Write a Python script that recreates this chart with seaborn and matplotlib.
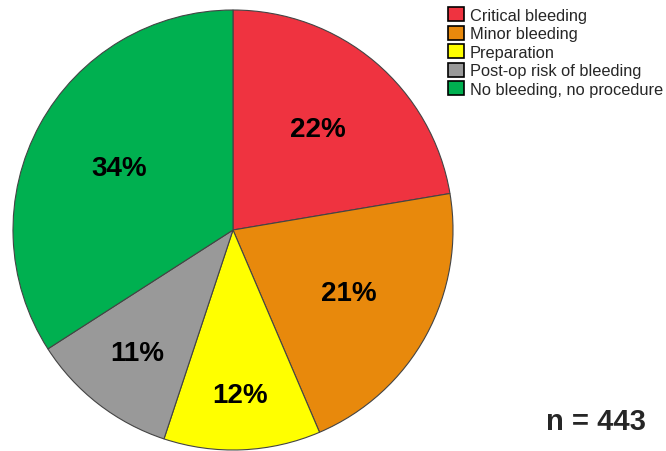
import matplotlib
matplotlib.use("Agg")
import numpy as np
import matplotlib.pyplot as plt
import seaborn as sns
from matplotlib.patches import Patch

sns.set_style("white")
plt.rcParams['font.family'] = ['Liberation Sans', 'DejaVu Sans']

categories = ['Critical bleeding', 'Minor bleeding', 'Preparation',
              'Post-op risk of bleeding', 'No bleeding, no procedure']
counts = [99, 94, 51, 48, 151]   # n = 443 in total
colors = ['#EF3340', '#E8890C', '#FFFF00', '#999999', '#00B050']
# how far out each percent label sits (fraction of radius), as in the original
label_dist = [0.60, 0.60, 0.75, 0.71, 0.59]
n_total = sum(counts)

fig = plt.figure(figsize=(6.66, 4.52), dpi=100)
ax = fig.add_axes([13 / 666, 1 / 452, 440 / 666, 440 / 452])

wedges, texts = ax.pie(
    counts, colors=colors, startangle=90, counterclock=False, radius=1.0,
    wedgeprops={'edgecolor': '#444444', 'linewidth': 0.8})

for w, c, d in zip(wedges, counts, label_dist):
    ang = np.deg2rad((w.theta1 + w.theta2) / 2)
    ax.text(d * np.cos(ang), d * np.sin(ang), f'{100 * c / n_total:.0f}%',
            ha='center', va='center', fontsize=20, fontweight='bold', color='black')

ax.set_xlim(-1.0, 1.0)
ax.set_ylim(-1.0, 1.0)
ax.set_aspect('equal')
ax.axis('off')

handles = [Patch(facecolor=c, edgecolor='black', linewidth=1.2) for c in colors]
fig.legend(handles, categories, loc='upper right', bbox_to_anchor=(666 / 666, 1 - 5 / 452),
           frameon=False, fontsize=11.8, handlelength=0.95, handleheight=0.95,
           handletextpad=0.35, labelspacing=0.17, borderaxespad=0.0, borderpad=0.2)

fig.text(596 / 666, 1 - 422 / 452, f'n = {n_total}', fontsize=21, fontweight='bold',
         ha='center', va='center')

fig.savefig('out.png', dpi=100)
